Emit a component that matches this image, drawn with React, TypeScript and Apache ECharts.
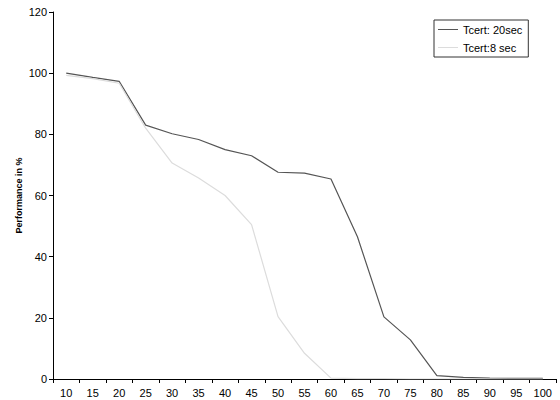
import React, { useEffect, useRef } from "react";
import * as echarts from "echarts";

const categories = ["10", "15", "20", "25", "30", "35", "40", "45", "50", "55", "60", "65", "70", "75", "80", "85", "90", "95", "100"];
const tcert20 = [100, 98.6, 97.3, 83, 80.2, 78.3, 75, 73, 67.6, 67.3, 65.4, 46.5, 20.3, 12.8, 1.1, 0.5, 0.3, 0.2, 0.2];
const tcert8 = [99.3, 98.2, 96.7, 82, 70.6, 65.7, 60, 50.5, 20.4, 8.4, 0.3, 0.1, 0.1, 0, 0, 0, 0, 0, 0];
const yTicks = { min: 0, max: 120, interval: 20 };

export default function App() {
  const ref = useRef<HTMLDivElement>(null);
  useEffect(() => {
    const chart = echarts.init(ref.current!, null, { renderer: "svg" });
    chart.setOption({
      animation: false,
      backgroundColor: "#ffffff",
      textStyle: { fontFamily: "Liberation Sans, Arial, sans-serif" },
      grid: { left: 53, right: 4, top: 12, bottom: 21, containLabel: false },
      legend: {
        orient: "vertical",
        left: 434,
        top: 20,
        width: 96,
        padding: [4, 6, 4, 4],
        borderColor: "#333",
        borderWidth: 1,
        itemWidth: 20,
        itemHeight: 1,
        itemGap: 7,
        icon: "rect",
        textStyle: { fontSize: 11, color: "#000", fontFamily: "Liberation Sans, Arial, sans-serif" },
        data: ["Tcert: 20sec", "Tcert:8 sec"],
      },
      xAxis: {
        type: "category",
        data: categories,
        boundaryGap: true,
        axisLine: { lineStyle: { color: "#000", width: 1 } },
        axisTick: { show: true, alignWithLabel: false, length: 4, lineStyle: { color: "#000" } },
        axisLabel: { color: "#000", fontSize: 11, margin: 8, interval: 0 },
        splitLine: { show: false },
      },
      yAxis: {
        type: "value",
        min: yTicks.min,
        max: yTicks.max,
        interval: yTicks.interval,
        name: "Performance in %",
        nameLocation: "middle",
        nameGap: 30,
        nameMoveOverlap: false,
        nameRotate: 90,
        nameTextStyle: { fontSize: 9, fontWeight: "bold", color: "#000" },
        axisLine: { show: true, lineStyle: { color: "#000", width: 1 } },
        axisTick: { show: true, length: 4, lineStyle: { color: "#000" } },
        axisLabel: { color: "#000", fontSize: 11, margin: 6 },
        splitLine: { show: false },
      },
      series: [
        {
          name: "Tcert: 20sec",
          type: "line",
          data: tcert20,
          symbol: "none",
          lineStyle: { color: "#555555", width: 1.2 },
          itemStyle: { color: "#555555" },
        },
        {
          name: "Tcert:8 sec",
          type: "line",
          data: tcert8,
          symbol: "none",
          lineStyle: { color: "#dcdcdc", width: 1.2 },
          itemStyle: { color: "#dcdcdc" },
        },
      ],
    });
    return () => chart.dispose();
  }, []);
  return <div ref={ref} style={{ width: 560, height: 400, position: "absolute", left: 0, top: 0 }} />;
}
